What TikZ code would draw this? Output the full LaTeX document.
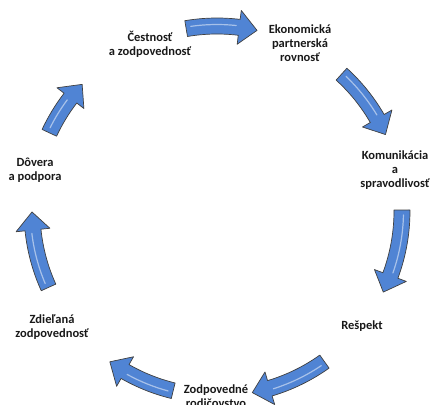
\documentclass[tikz,border=0pt]{standalone}
\usepackage{fontspec}
\setmainfont{Carlito}
\definecolor{arrowblue}{RGB}{80,132,212}
\newcommand\cycarrow[2]{% #1 tail angle, #2 tip angle (clockwise)
  \pgfmathsetmacro\hb{#2+5.6}%
  \pgfmathsetmacro\hs{#1-1.5}%
  \pgfmathsetmacro\he{\hb+1}%
  \path[arrowbody] (#1:193) arc[start angle=#1, end angle=\hb, radius=193]
    -- (\hb:202) -- (#2:185) -- (\hb:168) -- (\hb:177)
    arc[start angle=\hb, end angle=#1, radius=177] -- cycle;
  \draw[hilite] (\hs:186.5) arc[start angle=\hs, end angle=\he, radius=186.5];
}
\begin{document}
\begin{tikzpicture}[x=1pt,y=1pt,
  lbl/.style={font=\bfseries\fontsize{12.5}{14}\selectfont, align=center, text=black!90, inner sep=0pt},
  arrowbody/.style={fill=arrowblue, draw=black!75, line width=0.7pt, line join=round},
  hilite/.style={draw=white, opacity=0.5, line width=1.2pt, line cap=round}]
\useasboundingbox (0,0) rectangle (432,405);
\clip (0,0) rectangle (432,405);
\begin{scope}[shift={(217,194)}]
  \cycarrow{99.6}{77.5}
  \cycarrow{47.7}{24.4}
  \cycarrow{0.3}{-26}
  \cycarrow{-54.5}{-79}
  \cycarrow{-103.7}{-125.4}
  \cycarrow{204.4}{180.3}
  \cycarrow{155}{136.8}
\end{scope}
\node[lbl] (cest) at (150,360.5) {Čestnosť\\a zodpovednosť};
\node[lbl] (ekon) at (300,362) {Ekonomická\\partnerská\\rovnosť};
\node[lbl] (kom) at (395,235) {Komunikácia\\a\\spravodlivosť};
\node[lbl] (resp) at (362,79) {Rešpekt};
\node[lbl] (zodp) at (216,9) {Zodpovedné\\rodičovstvo};
\node[lbl] (zdiel) at (52,78) {Zdieľaná\\zodpovednosť};
\node[lbl] (dov) at (35,235) {Dôvera\\a podpora};
\end{tikzpicture}
\end{document}
